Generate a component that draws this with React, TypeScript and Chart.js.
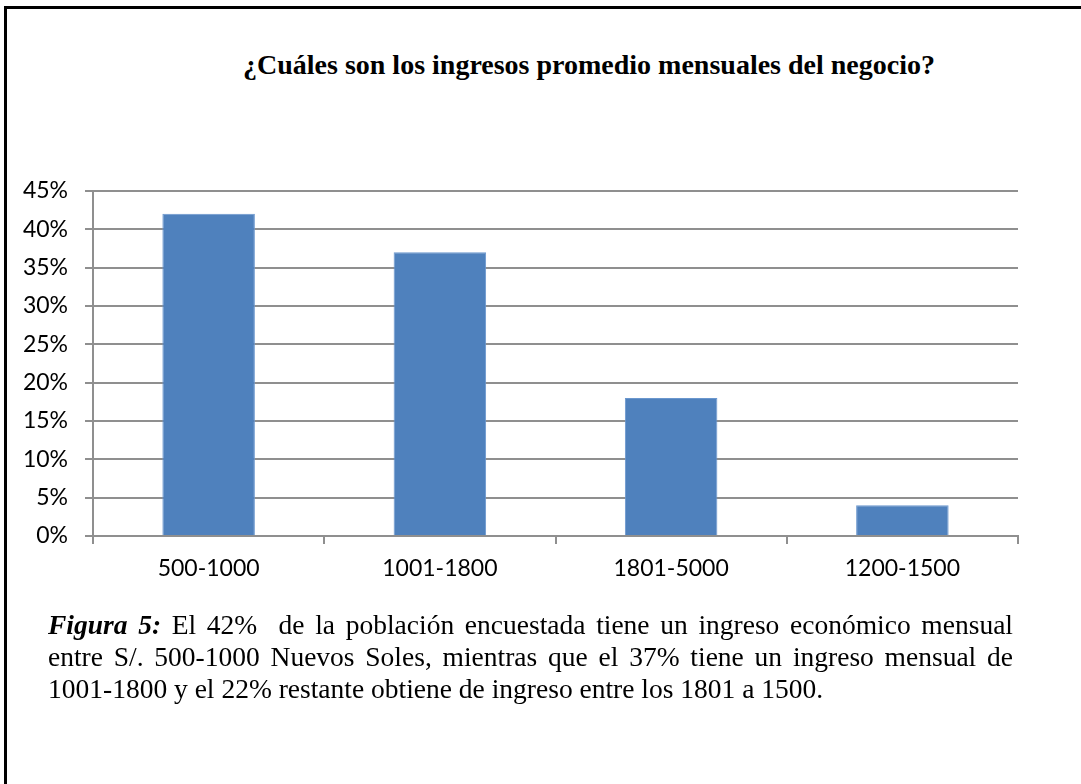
import React, { useEffect, useRef } from "react";
import { Chart, registerables } from "chart.js";

Chart.register(...registerables);

const titleText = "¿Cuáles son los ingresos promedio mensuales del negocio?";
const categories = ["500-1000", "1001-1800", "1801-5000", "1200-1500"];
const percentValues = [42, 37, 18, 4];
const yTickMax = 45;
const yTickStep = 5;
const captionLead = "Figura 5:";
const captionLine1 = " El 42%  de la población encuestada tiene un ingreso económico mensual";
const captionLine2 = "entre S/. 500-1000 Nuevos Soles, mientras que el 37% tiene un ingreso mensual de";
const captionLine3 = "1001-1800 y el 22% restante obtiene de ingreso entre los 1801 a 1500.";

const GRID = "#8f8f8f";
const TICK_FONT = { family: "Lato, 'Noto Sans', sans-serif", size: 23 };

function BarChart() {
  const ref = useRef<HTMLCanvasElement | null>(null);
  useEffect(() => {
    if (!ref.current) return;
    const chart = new Chart(ref.current, {
      type: "bar",
      data: {
        labels: categories,
        datasets: [
          {
            data: percentValues,
            backgroundColor: "#4F81BD",
            borderColor: "#6A97CE",
            borderWidth: 1,
            barPercentage: 0.4,
            categoryPercentage: 1,
          },
        ],
      },
      options: {
        responsive: false,
        animation: false,
        devicePixelRatio: 1,
        layout: { padding: { top: 30, right: 22, left: 0, bottom: 0 } },
        plugins: {
          legend: { display: false },
          tooltip: { enabled: false },
          title: { display: false },
        },
        scales: {
          x: {
            grid: {
              offset: true,
              drawOnChartArea: false,
              drawTicks: true,
              tickLength: 8,
              color: GRID,
              lineWidth: 2,
            },
            border: { display: true, color: GRID, width: 2 },
            ticks: { color: "#000", font: TICK_FONT, padding: 11, maxRotation: 0 },
            afterFit: (s: any) => {
              s.height = 74;
            },
          },
          y: {
            min: 0,
            max: yTickMax,
            grid: {
              color: GRID,
              lineWidth: 2,
              drawTicks: true,
              tickLength: 8,
            },
            border: { display: true, color: GRID, width: 2 },
            ticks: {
              stepSize: yTickStep,
              color: "#000",
              font: TICK_FONT,
              padding: 17,
              callback: (v: any) => v + "%",
            },
            afterFit: (s: any) => {
              s.width = 93;
            },
          },
        },
      },
    });
    return () => chart.destroy();
  }, []);
  return (
    <canvas
      ref={ref}
      width={1040}
      height={450}
      style={{ position: "absolute", left: 0, top: 160, width: 1040, height: 450 }}
    />
  );
}

export default function App() {
  const serif = "'Liberation Serif', 'Times New Roman', serif";
  const lineStyle: React.CSSProperties = {
    textAlign: "justify",
    textAlignLast: "justify" as any,
    whiteSpace: "pre-wrap",
    height: 32,
  };
  return (
    <div
      style={{
        position: "absolute",
        left: 0,
        top: 0,
        width: 1081,
        height: 784,
        overflow: "hidden",
        background: "#fff",
      }}
    >
      <div
        style={{
          position: "absolute",
          left: 4,
          top: 6,
          width: 1300,
          height: 1000,
          borderLeft: "3px solid #000",
          borderTop: "3px solid #000",
        }}
      />
      <div
        style={{
          position: "absolute",
          left: 189,
          top: 51,
          width: 800,
          textAlign: "center",
          fontFamily: serif,
          fontWeight: "bold",
          fontSize: 28,
          lineHeight: "28px",
          color: "#000",
        }}
      >
        {titleText}
      </div>
      <BarChart />
      <div
        style={{
          position: "absolute",
          left: 48,
          top: 609,
          width: 965,
          fontFamily: serif,
          fontSize: 27.5,
          lineHeight: "32px",
          color: "#000",
        }}
      >
        <div style={lineStyle}>
          <b>
            <i>{captionLead}</i>
          </b>
          {captionLine1}
        </div>
        <div style={lineStyle}>{captionLine2}</div>
        <div style={{ height: 32, whiteSpace: "pre-wrap" }}>{captionLine3}</div>
      </div>
    </div>
  );
}
